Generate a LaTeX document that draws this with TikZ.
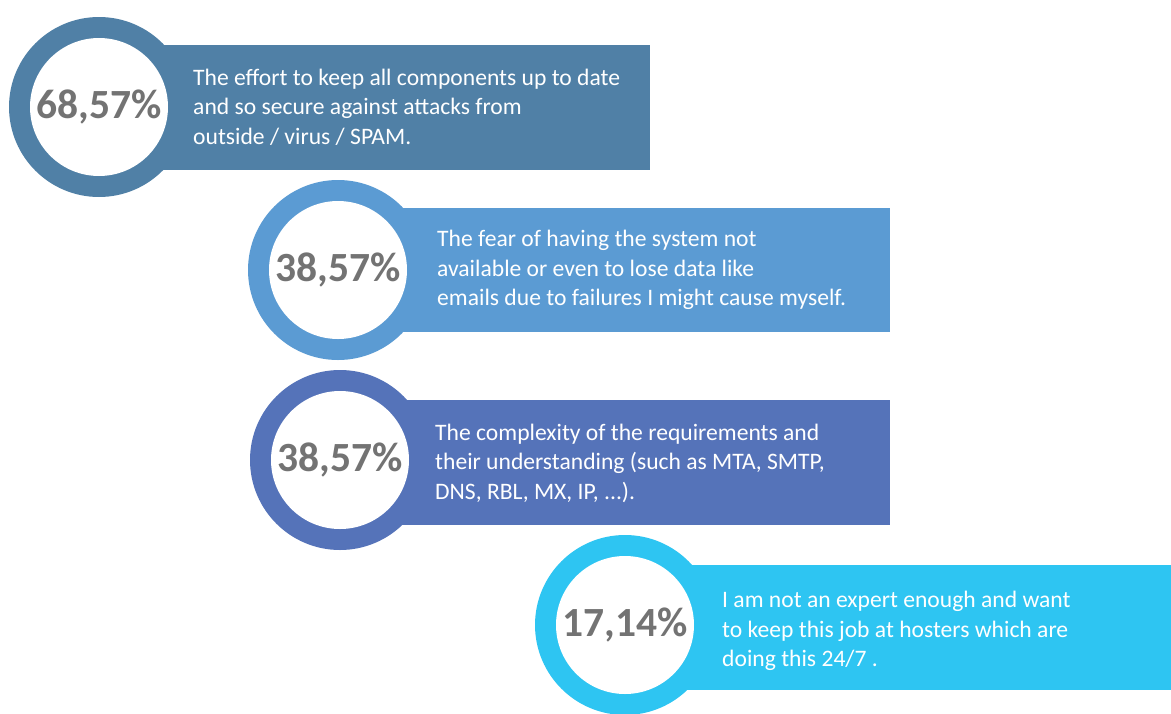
\documentclass[tikz,border=0pt]{standalone}
\usepackage{fontspec}
\setmainfont{Carlito}
\definecolor{cA}{HTML}{5080A6}
\definecolor{cB}{HTML}{5B9BD3}
\definecolor{cC}{HTML}{5573B9}
\definecolor{cD}{HTML}{2EC5F2}
\definecolor{pgrey}{HTML}{737373}
\tikzset{
  bar/.style={fill=#1, draw=none},
  ring/.style={circle, fill=#1, draw=none, minimum size=180pt, inner sep=0pt},
  hole/.style={circle, fill=white, draw=none, minimum size=138pt, inner sep=0pt, text=pgrey, font=\fontsize{41.5}{45}\selectfont\bfseries},
  desc/.style={anchor=west, align=left, text=white, inner sep=0pt, font=\fontsize{23.6}{29.5}\selectfont}
}
\begin{document}
\begin{tikzpicture}[x=1pt,y=-1pt]
\useasboundingbox (0,0) rectangle (1171,713);
% item 1
\fill[cA] (99,45) rectangle (650,170);
\node[ring=cA] (r1) at (99,107) {};
\node[hole] (p1) at (99,107) {68,57\%};
\node[desc] (t1) at (193,107) {The effort to keep all components up to date\\and so secure against attacks from\\outside / virus / SPAM.};
% item 2
\fill[cB] (338,208) rectangle (890,332);
\node[ring=cB] (r2) at (338,270) {};
\node[hole] (p2) at (338,270) {38,57\%};
\node[desc] (t2) at (437,270) {The fear of having the system not\\available or even to lose data like\\emails due to failures I might cause myself.};
% item 3
\fill[cC] (340,400) rectangle (890,525);
\node[ring=cC] (r3) at (340,460) {};
\node[hole] (p3) at (340,460) {38,57\%};
\node[desc] (t3) at (435,463) {The complexity of the requirements and\\their understanding (such as MTA, SMTP,\\DNS, RBL, MX, IP, ...).};
% item 4
\fill[cD] (625,565) rectangle (1171,690);
\node[ring=cD] (r4) at (625,625) {};
\node[hole] (p4) at (625,625) {17,14\%};
\node[desc] (t4) at (722,631) {I am not an expert enough and want\\to keep this job at hosters which are\\doing this 24/7 .};
\end{tikzpicture}
\end{document}
